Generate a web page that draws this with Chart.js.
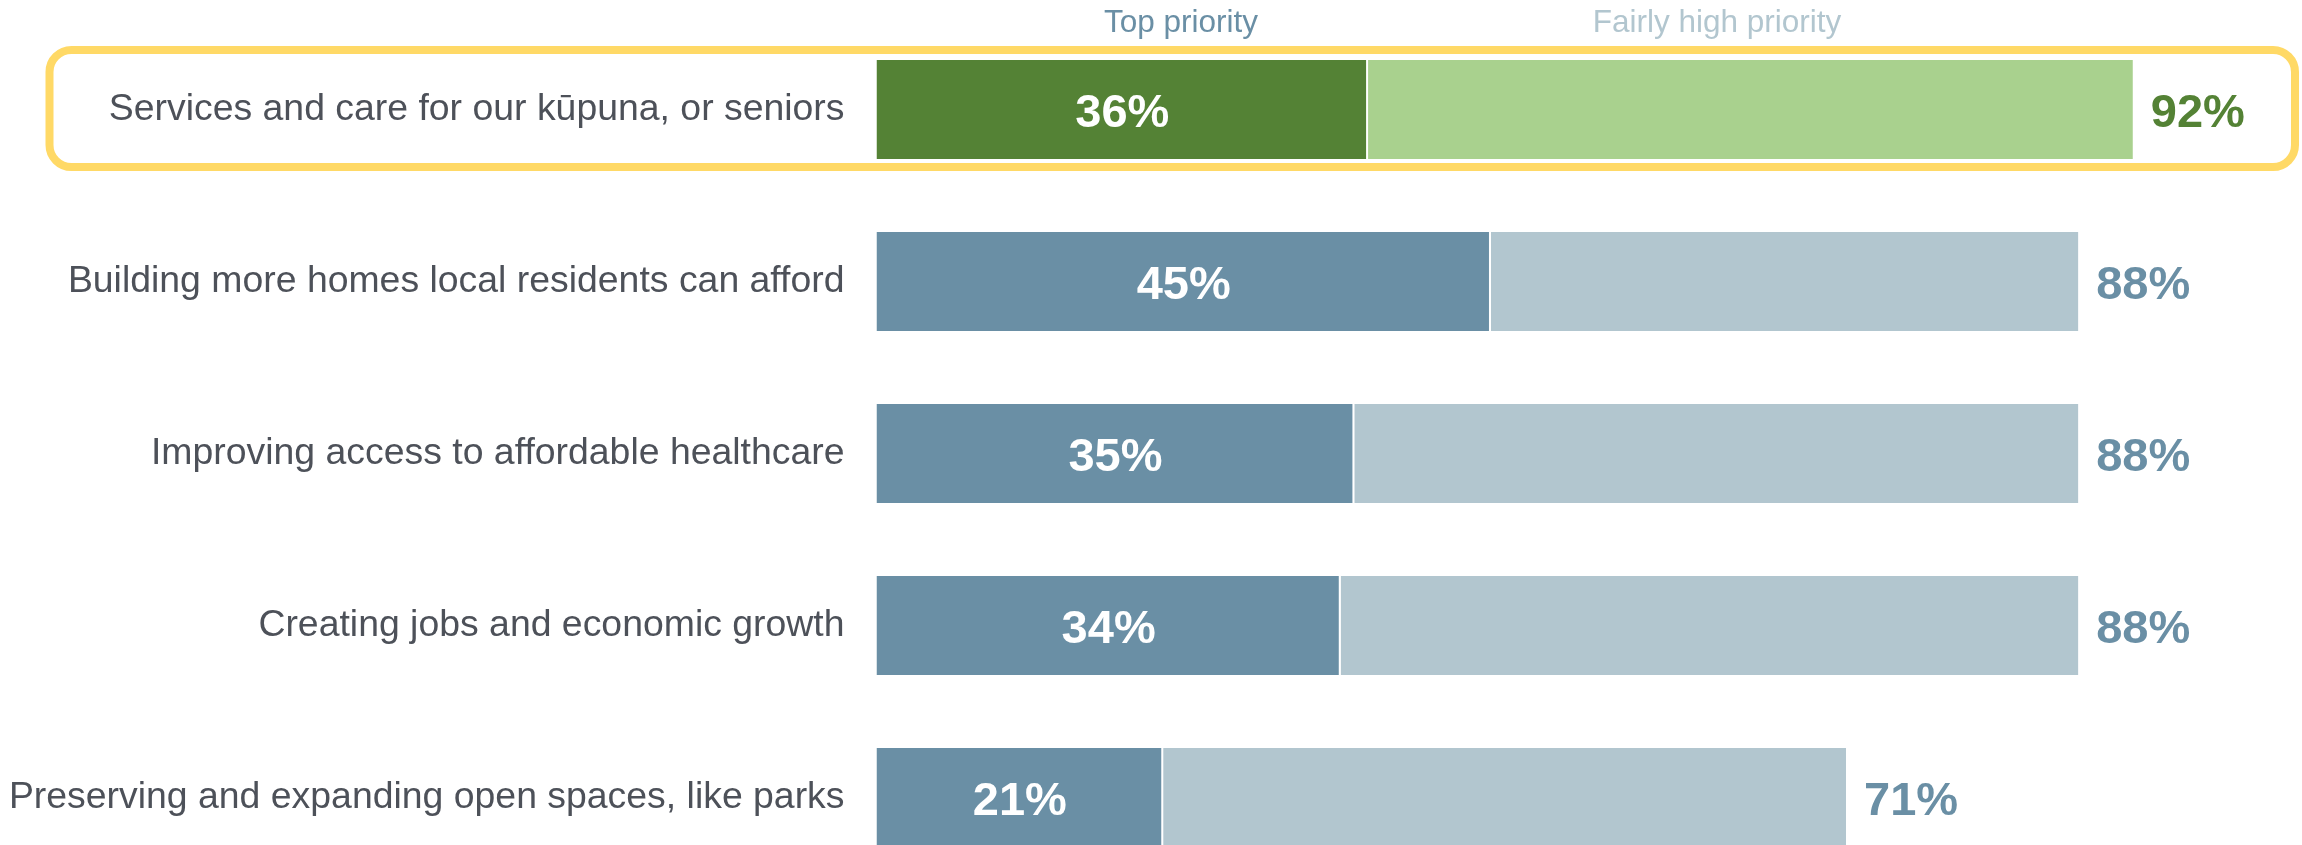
<!DOCTYPE html>
<html>
<head>
<meta charset="utf-8">
<script src="https://cdn.jsdelivr.net/npm/chart.js@4.4.0/dist/chart.umd.min.js"></script>
<style>
  html, body { margin: 0; padding: 0; background: #fff; overflow: hidden; }
  #wrap { position: relative; width: 2302px; height: 845px; }
</style>
</head>
<body>
<div id="wrap"><canvas id="graficoPrioridades"></canvas></div>
<script>
const categories = [
  'Services and care for our kūpuna, or seniors',
  'Building more homes local residents can afford',
  'Improving access to affordable healthcare',
  'Creating jobs and economic growth',
  'Preserving and expanding open spaces, like parks'
];
const topPriority = [36, 45, 35, 34, 21];
const fairlyHigh = [56, 43, 53, 54, 50];
const totals = [92, 88, 88, 88, 71];
const seriesNames = ['Top priority', 'Fairly high priority'];

const darkColors = ['#548235', '#6A8FA5', '#6A8FA5', '#6A8FA5', '#6A8FA5'];
const lightColors = ['#A9D18E', '#B2C6CF', '#B2C6CF', '#B2C6CF', '#B2C6CF'];

// etiquetas de valores, encabezados y recuadro amarillo
const labelsPlugin = {
  id: 'labelsPlugin',
  beforeDraw(chart) {
    const ctx = chart.ctx;
    const cy = chart.scales.y.getPixelForValue(0);
    ctx.save();
    ctx.strokeStyle = '#FFD966';
    ctx.lineWidth = 8;
    ctx.beginPath();
    ctx.roundRect(49.5, cy - 59.5, 2245.5, 117, 22);
    ctx.stroke();
    ctx.restore();
  },
  afterDatasetsDraw(chart) {
    const ctx = chart.ctx;
    const dark = chart.getDatasetMeta(0).data;
    const light = chart.getDatasetMeta(1).data;
    ctx.save();
    ctx.textBaseline = 'middle';
    ctx.font = 'bold 47px "Liberation Sans", Arial, sans-serif';
    dark.forEach((bar, i) => {
      ctx.fillStyle = '#ffffff';
      ctx.textAlign = 'center';
      ctx.fillText(topPriority[i] + '%', (bar.x + bar.base) / 2, bar.y + 5);
      ctx.fillStyle = darkColors[i];
      ctx.textAlign = 'left';
      ctx.fillText(totals[i] + '%', light[i].x + 18, bar.y + 5);
    });
    ctx.font = '31.5px "Liberation Sans", Arial, sans-serif';
    ctx.textAlign = 'center';
    ctx.fillStyle = '#6A8FA5';
    ctx.fillText(seriesNames[0], 1181, 23.5);
    ctx.fillStyle = '#B2C6CF';
    ctx.fillText(seriesNames[1], 1717, 23.5);
    ctx.restore();
  }
};

const ctxPrioridades = document.getElementById('graficoPrioridades');
new Chart(ctxPrioridades, {
  type: 'bar',
  data: {
    labels: categories,
    datasets: [{
      label: seriesNames[0],
      data: topPriority,
      backgroundColor: darkColors,
      borderColor: '#ffffff',
      borderWidth: { right: 2, left: 0, top: 0, bottom: 0 },
      borderSkipped: false
    }, {
      label: seriesNames[1],
      data: fairlyHigh,
      backgroundColor: lightColors,
      borderWidth: 0
    }]
  },
  options: {
    indexAxis: 'y',
    responsive: true,
    maintainAspectRatio: false,
    animation: false,
    datasets: {
      bar: { categoryPercentage: 1, barPercentage: 0.576, clip: false }
    },
    layout: {
      padding: { top: 109.5, bottom: 47.5, right: 60, left: 0 }
    },
    scales: {
      x: {
        stacked: true,
        display: false,
        min: 0,
        max: 100
      },
      y: {
        stacked: true,
        offset: false,
        grid: { display: false, drawTicks: false },
        border: { display: false },
        ticks: {
          padding: 32,
          color: '#4D5159',
          font: { family: '"Liberation Sans", Arial, sans-serif', size: 37.4, lineHeight: 0.8 }
        },
        afterFit(scale) {
          scale.width = 876.5;
        }
      }
    },
    plugins: {
      legend: { display: false },
      title: { display: false },
      tooltip: { enabled: false }
    }
  },
  plugins: [labelsPlugin]
});
</script>
</body>
</html>
